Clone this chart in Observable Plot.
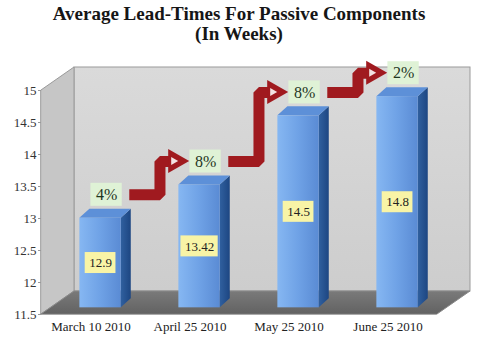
<!DOCTYPE html>
<html><head><meta charset="utf-8">
<script src="https://cdn.jsdelivr.net/npm/d3@7"></script>
<script src="https://cdn.jsdelivr.net/npm/@observablehq/plot@0.6"></script>
<style>
html,body{margin:0;padding:0;background:#fff;}
#title{width:478px;height:52px;padding-top:4px;box-sizing:border-box;text-align:center;font:bold 19px/20px "Liberation Serif","Times New Roman",serif;color:#161616;}
#chart svg{display:block;}
</style></head><body>
<div id="title">Average Lead-Times For Passive Components<br>(In Weeks)</div>
<div id="chart"></div>
<script>
// ---- data ----
const categories = ["March 10 2010", "April 25 2010", "May 25 2010", "June 25 2010"];
const leadTimes = [12.9, 13.42, 14.5, 14.8];
const changeLabels = ["4%", "8%", "8%", "2%"];
const yTicks = [11.5, 12, 12.5, 13, 13.5, 14, 14.5, 15];

// ---- layout ----
const W = 494, H = 288, mL = 41, mR = 57, mT = 38, mB = 26;
const n = categories.length;
const yMin = 11.5, yMax = 15;
const px2x = n / (W - mL - mR);
const px2y = (yMax - yMin) / (H - mT - mB);
const DX = 33 * px2x, DY = 23 * px2y;      // depth of the 3D box
const zf = 0.29;                              // bar front depth fraction
const hw = 20.7 * px2x;                       // half bar width
const sdx = 10 * px2x, sdy = 9 * px2y;        // bar depth
const pctOffset = 0.47;

const bars = leadTimes.map((v, i) => ({
  i, v, label: String(v), pct: changeLabels[i],
  cx: i + 0.5 + zf * DX, yb: yMin + zf * DY, yt: v + zf * DY
}));
const sidePts = bars.flatMap(b => [
  {i: b.i, x: b.cx + hw, y1: b.yb, y2: b.yt},
  {i: b.i, x: b.cx + hw + sdx, y1: b.yb + sdy, y2: b.yt + sdy}
]);
const topPts = bars.flatMap(b => [
  {i: b.i, y: b.yt, x1: b.cx - hw, x2: b.cx + hw},
  {i: b.i, y: b.yt + sdy, x1: b.cx - hw + sdx, x2: b.cx + hw + sdx}
]);

function textW(s, size) {
  let w = 0;
  for (const c of s) w += c === "." ? 0.25 : c === "%" ? 0.833 : 0.5;
  return w * size;
}
const valBoxes = bars.map(b => {
  const hwBox = (textW(b.label, 13) / 2 + 4) * px2x, hh = 10.5 * px2y, yc = (b.yb + b.yt) / 2;
  return {x1: b.cx - hwBox, x2: b.cx + hwBox, y1: yc - hh, y2: yc + hh};
});
const pctX = b => b.cx + 6 * px2x;
const pctY = b => b.v + pctOffset;
const pctBoxes = bars.map(b => {
  const hwBox = (textW(b.pct, 16) / 2 + 5) * px2x, hh = 11.5 * px2y;
  return {x1: pctX(b) - hwBox, x2: pctX(b) + hwBox, y1: pctY(b) - hh, y2: pctY(b) + hh};
});

// step arrows between consecutive bars
const arrowLines = [], arrowHeads = [], glints = [];
for (let k = 0; k < n - 1; k++) {
  const a = bars[k], b = bars[k + 1];
  const y0 = pctY(a), y1 = pctY(b);
  const x0 = a.cx + 0.29, xs = a.cx + 0.6, tip = b.cx - 0.1;
  const base = tip - 21 * px2x;
  arrowLines.push({k, x: x0, y: y0}, {k, x: xs, y: y0}, {k, x: xs, y: y1}, {k, x: base + 2 * px2x, y: y1});
  arrowHeads.push({k, x: base, y1: y1 - 12 * px2y, y2: y1 + 12 * px2y}, {k, x: tip, y1: y1, y2: y1});
  glints.push({k, x: base + 3 * px2x, y1: y1 - 4 * px2y, y2: y1 + 4 * px2y}, {k, x: base + 10 * px2x, y1: y1, y2: y1});
}

const chart = Plot.plot({
  width: W, height: H,
  marginLeft: mL, marginRight: mR, marginTop: mT, marginBottom: mB,
  x: {domain: [0, n]},
  y: {domain: [yMin, yMax]},
  style: {fontFamily: "'Liberation Serif','Times New Roman',serif", fontSize: "13px", background: "#fff", color: "#333"},
  marks: [
    // back wall
    Plot.rect([0], {x1: () => DX, x2: () => n + DX, y1: () => yMin + DY, y2: () => yMax + DY,
      fill: "url(#backGrad)", stroke: "#9a9a9a", strokeWidth: 1}),
    // left wall
    Plot.area([{x: 0, y1: yMin, y2: yMax}, {x: DX, y1: yMin + DY, y2: yMax + DY}],
      {x1: "x", y1: "y1", y2: "y2", fill: "#c6c6c6", stroke: "#9a9a9a", strokeWidth: 1}),
    // floor
    Plot.area([{y: yMin, x1: 0, x2: n}, {y: yMin + DY, x1: DX, x2: n + DX}],
      {y1: "y", x1: "x1", x2: "x2", fill: "url(#floorGrad)", stroke: "#8a8a8a", strokeWidth: 1}),
    // bars
    Plot.area(sidePts, {x1: "x", y1: "y1", y2: "y2", z: "i", fill: "url(#sideGrad)"}),
    Plot.area(topPts, {y1: "y", x1: "x1", x2: "x2", z: "i", fill: "#5d90d8"}),
    Plot.rect(bars, {x1: b => b.cx - hw, x2: b => b.cx + hw, y1: "yb", y2: "yt", fill: "url(#frontGrad)"}),
    // value labels
    Plot.rect(valBoxes, {x1: "x1", x2: "x2", y1: "y1", y2: "y2", fill: "#f8f4a6"}),
    Plot.text(bars, {x: "cx", y: b => (b.yb + b.yt) / 2, text: "label", fontSize: 13, fill: "#222"}),
    // arrows
    Plot.line(arrowLines, {x: "x", y: "y", z: "k", stroke: "#a01a1f", strokeWidth: 11, strokeLinejoin: "miter", strokeLinecap: "butt"}),
    Plot.area(arrowHeads, {x1: "x", y1: "y1", y2: "y2", z: "k", fill: "#a01a1f"}),
    Plot.area(glints, {x1: "x", y1: "y1", y2: "y2", z: "k", fill: "#f3e2e2"}),
    // percent labels
    Plot.rect(pctBoxes, {x1: "x1", x2: "x2", y1: "y1", y2: "y2", fill: "#dff2d6"}),
    Plot.text(bars, {x: pctX, y: pctY, text: "pct", fontSize: 16, fill: "#1f361f"}),
    // axes
    Plot.axisY(yTicks, {tickSize: 3, tickPadding: 2, stroke: "#999", fill: "#333", fontSize: 13, tickFormat: d => String(d)}),
    Plot.axisX(d3.range(n).map(i => i + 0.5), {tickFormat: d => categories[Math.floor(d)], tickSize: 0, tickPadding: 7, fill: "#222", fontSize: 13})
  ]
});

const defs = d3.select(chart).insert("defs", ":first-child");
function grad(id, stops, vertical) {
  const g = defs.append("linearGradient").attr("id", id)
    .attr("x1", 0).attr("y1", 0).attr("x2", vertical ? 0 : 1).attr("y2", vertical ? 1 : 0);
  stops.forEach(([o, c]) => g.append("stop").attr("offset", o).attr("stop-color", c));
}
grad("backGrad", [[0, "#dadada"], [1, "#cdcdcd"]], true);
grad("floorGrad", [[0, "#7a7a7a"], [1, "#626262"]], true);
grad("sideGrad", [[0, "#30609f"], [1, "#1d4682"]], false);
grad("frontGrad", [[0, "#86b7f2"], [0.5, "#6fa2e6"], [1, "#5a8bd4"]], false);

document.getElementById("chart").appendChild(chart);
</script>
</body></html>
